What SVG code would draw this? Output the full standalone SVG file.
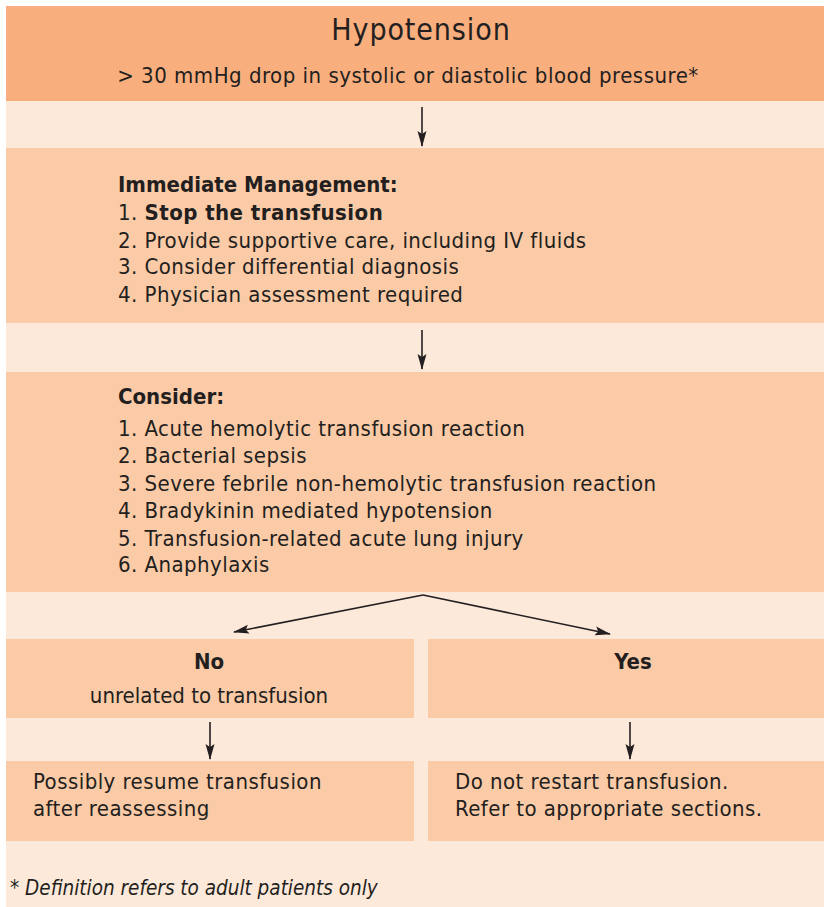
<svg xmlns="http://www.w3.org/2000/svg" width="824" height="907" viewBox="0 0 824 907">
<style>
.t{font-family:"DejaVu Sans Condensed","DejaVu Sans",sans-serif;font-stretch:condensed;fill:#231F20;font-size:22px;letter-spacing:0.45px}
.b{font-weight:bold}
.c{text-anchor:middle}
.box{fill:#FBCBA7}
.edge{stroke:#231F20;stroke-width:1.6;fill:none;marker-end:url(#ah)}
</style>
<defs>
<marker id="ah" markerUnits="userSpaceOnUse" markerWidth="16" markerHeight="12" viewBox="0 0 16 12" refX="15" refY="6" orient="auto">
<path d="M0,1.5 L16,6 L0,10.5 L3,6 Z" fill="#231F20"/>
</marker>
</defs>
<rect x="0" y="0" width="824" height="907" fill="#FFFFFF"/>
<rect x="6" y="6" width="818" height="901" fill="#FDE9DA"/>
<g id="n-hypotension">
<rect x="6" y="6" width="818" height="95" fill="#F9AE7E"/>
<text class="t c" x="421" y="40" style="font-size:30px;letter-spacing:0.9px">Hypotension</text>
<text class="t c" x="408" y="83" style="letter-spacing:0.5px">&gt; 30 mmHg drop in systolic or diastolic blood pressure*</text>
</g>
<g id="n-immediate">
<rect class="box" x="6" y="148" width="818" height="175"/>
<text class="t b" x="118" y="192" style="letter-spacing:0">Immediate Management:</text>
<text class="t" x="118" y="220">1. <tspan class="b">Stop the transfusion</tspan></text>
<text class="t" x="118" y="248">2. Provide supportive care, including IV fluids</text>
<text class="t" x="118" y="274">3. Consider differential diagnosis</text>
<text class="t" x="118" y="302">4. Physician assessment required</text>
</g>
<g id="n-consider">
<rect class="box" x="6" y="372" width="818" height="220"/>
<text class="t b" x="118" y="404" style="letter-spacing:0">Consider:</text>
<text class="t" x="118" y="436">1. Acute hemolytic transfusion reaction</text>
<text class="t" x="118" y="463">2. Bacterial sepsis</text>
<text class="t" x="118" y="491">3. Severe febrile non-hemolytic transfusion reaction</text>
<text class="t" x="118" y="518">4. Bradykinin mediated hypotension</text>
<text class="t" x="118" y="546">5. Transfusion-related acute lung injury</text>
<text class="t" x="118" y="572">6. Anaphylaxis</text>
</g>
<g id="n-no">
<rect class="box" x="6" y="639" width="408" height="79"/>
<text class="t b c" x="209" y="669" style="letter-spacing:0">No</text>
<text class="t c" x="209" y="703" style="letter-spacing:0">unrelated to transfusion</text>
</g>
<g id="n-yes">
<rect class="box" x="428" y="639" width="396" height="79"/>
<text class="t b c" x="633" y="669" style="letter-spacing:0">Yes</text>
</g>
<g id="n-resume">
<rect class="box" x="6" y="761" width="408" height="80"/>
<text class="t" x="33" y="789">Possibly resume transfusion</text>
<text class="t" x="33" y="816">after reassessing</text>
</g>
<g id="n-norestart">
<rect class="box" x="428" y="761" width="396" height="80"/>
<text class="t" x="455" y="789">Do not restart transfusion.</text>
<text class="t" x="455" y="816">Refer to appropriate sections.</text>
</g>
<g id="footnote">
<text class="t" x="10" y="895" style="font-style:italic;font-size:20.5px;letter-spacing:0">* Definition refers to adult patients only</text>
</g>
<g id="connectors">
<line class="edge" x1="422" y1="107" x2="422" y2="146"/>
<line class="edge" x1="422" y1="330" x2="422" y2="369"/>
<line class="edge" x1="423" y1="595" x2="234" y2="632"/>
<line class="edge" x1="423" y1="595" x2="610" y2="634"/>
<line class="edge" x1="210" y1="722" x2="210" y2="759"/>
<line class="edge" x1="630" y1="722" x2="630" y2="759"/>
</g>
</svg>
